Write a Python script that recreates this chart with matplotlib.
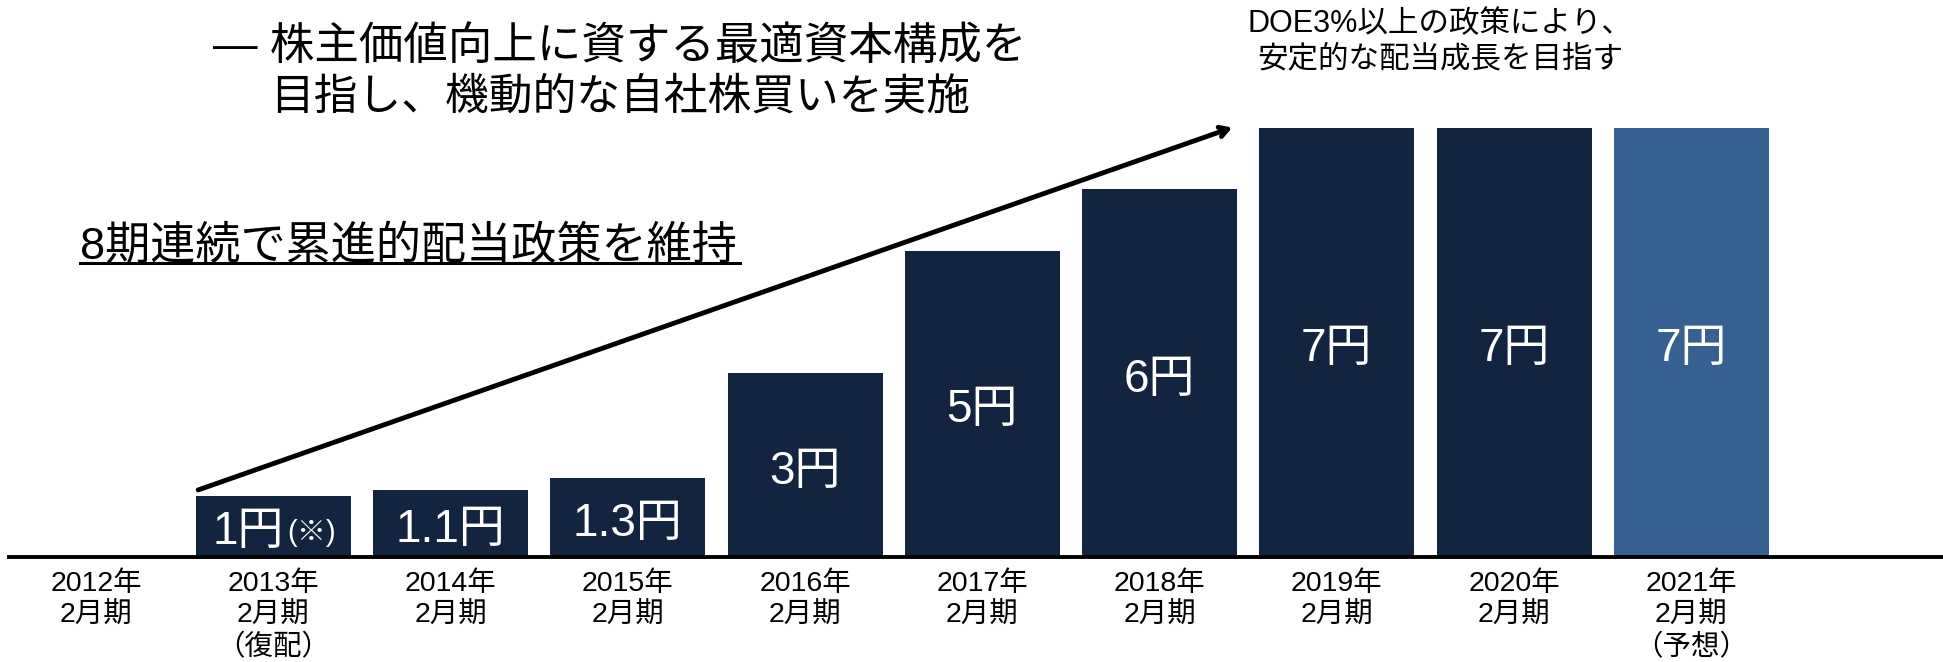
import matplotlib.pyplot as plt
import numpy as np

# 期末ごとの1株配当（円）
periods = ['2012年\n2月期', '2013年\n2月期\n（復配）', '2014年\n2月期', '2015年\n2月期',
           '2016年\n2月期', '2017年\n2月期', '2018年\n2月期', '2019年\n2月期',
           '2020年\n2月期', '2021年\n2月期\n（予想）']
dividends = [0, 1, 1.1, 1.3, 3, 5, 6, 7, 7, 7]
forecast = [False, False, False, False, False, False, False, False, False, True]

navy = '#12243f'
blue = '#376092'

plt.rcParams['font.family'] = ['Liberation Sans', 'Noto Sans CJK JP']

fig = plt.figure(figsize=(19.43, 6.62), dpi=100)
ax = fig.add_axes([0, 0.158, 1, 0.842])

x = np.arange(len(dividends))
colors = [blue if f else navy for f in forecast]
ax.bar(x, dividends, width=0.875, color=colors, zorder=2)

ax.set_xlim(-0.542, 10.42)
ax.set_ylim(0, 9.09)

# 棒の中の金額
for xi, v in zip(x, dividends):
    if v == 0:
        continue
    if xi == 1:
        ax.text(xi + 0.06, v / 2 - 0.08, f'{v:g}円', ha='right', va='center',
                color='white', fontsize=33)
        ax.text(xi + 0.08, v / 2 - 0.1, '(※)', ha='left', va='center',
                color='white', fontsize=21)
    else:
        ax.text(xi, v / 2 - 0.1, f'{v:g}円', ha='center', va='center',
                color='white', fontsize=33)

# 軸
ax.set_xticks(x)
ax.set_xticklabels(periods, fontsize=20.5, linespacing=1.25)
ax.tick_params(axis='x', length=0, pad=10)
ax.set_yticks([])
for s in ['top', 'right', 'left']:
    ax.spines[s].set_visible(False)
ax.spines['bottom'].set_linewidth(2.8)
ax.spines['bottom'].set_bounds(-0.49, 10.42)
ax.spines['bottom'].set_zorder(3)

# 右肩上がりの矢印
ax.annotate('', xy=(6.41, 7.01), xytext=(0.576, 1.10),
            arrowprops=dict(arrowstyle='->,head_length=0.6,head_width=0.35',
                            lw=3.5, color='black', shrinkA=0, shrinkB=0))

# 文言
fig.text(213 / 1943, 1 - 47 / 662, '— 株主価値向上に資する最適資本構成を',
         fontsize=32, ha='left', va='center')
fig.text(270 / 1943, 1 - 98 / 662, '目指し、機動的な自社株買いを実施',
         fontsize=31.5, ha='left', va='center')
fig.text(80 / 1943, 1 - 246 / 662, '8期連続で累進的配当政策を維持',
         fontsize=32.5, ha='left', va='center')
fig.text(1440 / 1943, 1 - 42 / 662, 'DOE3%以上の政策により、\n安定的な配当成長を目指す',
         fontsize=22, ha='center', va='center', linespacing=1.25)

# 下線
fig.add_artist(plt.Line2D([80 / 1943, 740 / 1943], [1 - 263 / 662, 1 - 263 / 662],
                          color='black', lw=2.2))

fig.savefig('out.png', dpi=100)
